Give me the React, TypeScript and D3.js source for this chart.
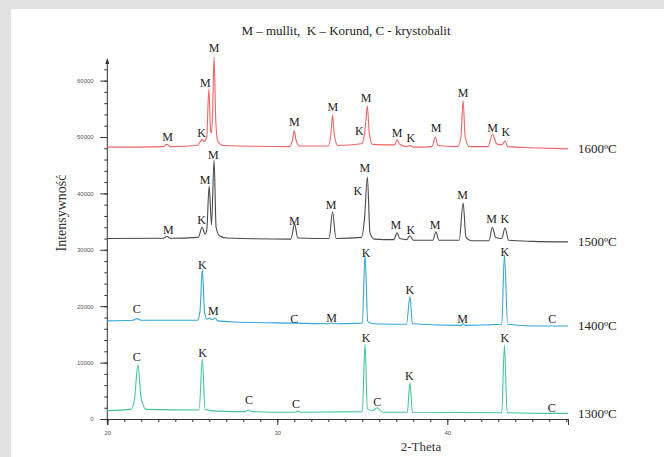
import React, { useRef, useEffect } from "react"
import * as d3 from "d3"

// XRD scans, [2-theta, counts]
const scan1600: [number, number][] = [
  [20, 48200], [23.3, 48300], [23.5, 48700], [23.7, 48300], [25.3, 48500], [25.5, 49300], [25.58, 49600],
  [25.68, 49200], [25.85, 50000], [25.97, 58500], [26.08, 51000], [26.13, 50700], [26.2, 55000],
  [26.28, 64200], [26.38, 53000], [26.5, 49200], [26.8, 48500], [30.7, 48300], [30.9, 49500],
  [31.0, 51100], [31.1, 49500], [31.3, 48400], [33.0, 48400], [33.15, 50500], [33.25, 53900],
  [33.35, 50500], [33.55, 48500], [34.95, 48800], [35.12, 50300], [35.2, 52500], [35.3, 55500],
  [35.4, 51000], [35.6, 48700], [36.9, 48600], [37.05, 49500], [37.2, 48700], [37.6, 48300],
  [37.8, 48500], [38.0, 48200], [39.1, 48300], [39.3, 50000], [39.45, 48500], [40.6, 48300],
  [40.8, 50000], [40.93, 56400], [41.05, 50000], [41.3, 48300], [42.4, 48300], [42.65, 50500],
  [42.9, 48800], [43.2, 48600], [43.4, 49300], [43.55, 48300], [45, 48100], [47.1, 47900],
]
const scan1500: [number, number][] = [
  [20, 32000], [23.3, 32050], [23.5, 32400], [23.7, 32050], [25.35, 32200], [25.58, 34000],
  [25.75, 32800], [25.85, 33500], [25.99, 41300], [26.13, 34400], [26.28, 45900], [26.4, 34000],
  [26.6, 32500], [27, 32100], [30.8, 31900], [31.02, 34600], [31.2, 32100], [33.05, 32000],
  [33.25, 36700], [33.45, 32000], [34.95, 32200], [35.13, 35500], [35.3, 42900], [35.45, 33000],
  [35.7, 31900], [36.85, 31800], [37.05, 33000], [37.2, 32000], [37.6, 31800], [37.8, 32500],
  [38.0, 31700], [39.15, 31700], [39.33, 33200], [39.5, 31700], [40.7, 31700], [40.93, 38300],
  [41.1, 32200], [41.4, 31600], [42.45, 31600], [42.65, 34000], [42.85, 32200], [43.2, 32000],
  [43.4, 33900], [43.6, 31700], [45, 31500], [47.1, 31400],
]
const scan1400: [number, number][] = [
  [20, 17400], [21.5, 17500], [21.75, 17800], [22.0, 17500], [25.3, 17500], [25.45, 19000],
  [25.59, 26500], [25.72, 19000], [25.85, 17700], [26.04, 17900], [26.15, 17600], [26.34, 17900],
  [26.5, 17400], [27.5, 17200], [31, 17000], [33.1, 16900], [33.2, 17100], [33.3, 16900],
  [35.0, 17000], [35.16, 29100], [35.32, 17300], [35.6, 16900], [37.6, 16800], [37.8, 21700],
  [37.95, 16900], [40.8, 16600], [40.93, 16900], [41.05, 16600], [43.2, 16800], [43.36, 29100],
  [43.55, 16800], [45, 16500], [47.1, 16500],
]
const scan1300: [number, number][] = [
  [20, 1500], [21.4, 1700], [21.6, 3500], [21.8, 9600], [22.0, 3500], [22.3, 1700], [25.4, 1600],
  [25.59, 10600], [25.75, 1700], [26.5, 1400], [28.1, 1300], [28.3, 1600], [28.5, 1300],
  [31.0, 1200], [31.2, 1400], [31.4, 1200], [35.0, 1300], [35.16, 13300], [35.3, 1800],
  [35.6, 1500], [35.88, 2000], [36.2, 1200], [37.65, 1200], [37.8, 6400], [37.95, 1200],
  [43.2, 1100], [43.36, 13100], [43.52, 1100], [46.1, 1000], [47.1, 1000],
]

// phase marks, [2-theta, letter, counts]
const labels1600: [number, string, number][] = [
  [23.55, "M", 50000], [25.55, "K", 50760], [25.76, "M", 59570], [26.28, "M", 65780],
  [31.0, "M", 52660], [33.26, "M", 55320], [35.23, "M", 56970], [34.82, "K", 51120],
  [37.04, "M", 50710], [37.86, "K", 49820], [39.34, "M", 51650], [40.93, "M", 57800],
  [42.67, "M", 51650], [43.45, "K", 50940],
]
const labels1500: [number, string, number][] = [
  [23.59, "M", 33630], [25.55, "K", 35280], [25.75, "M", 42500], [26.24, "M", 46810],
  [31.0, "M", 35160], [33.16, "M", 37940], [35.15, "M", 44500], [34.74, "K", 40430],
  [36.98, "M", 34400], [37.85, "K", 33630], [39.28, "M", 34400], [40.9, "M", 39720],
  [42.61, "M", 35460], [43.39, "K", 35460],
]
const labels1400: [number, string, number][] = [
  [21.73, "C", 19500], [25.59, "K", 27300], [26.24, "M", 19150], [31.0, "C", 17850],
  [33.2, "M", 18030], [35.22, "K", 29550], [37.8, "K", 22870], [40.9, "M", 17680],
  [43.39, "K", 29660], [46.18, "C", 17730],
]
const labels1300: [number, string, number][] = [
  [21.73, "C", 10940], [25.61, "K", 11650], [28.34, "C", 3490], [31.1, "C", 2660],
  [35.22, "K", 14310], [35.88, "C", 3070], [37.76, "K", 7620], [43.39, "K", 14310],
  [46.14, "C", 2000],
]

const temps = ["1600ºC", "1500ºC", "1400ºC", "1300ºC"]
const xMajor = [20, 30, 40]
const yMajor = [0, 10000, 20000, 30000, 40000, 50000, 60000]

const title = "M – mullit,  K – Korund, C - krystobalit"

const colors = ["#f06464", "#4a4a4a", "#35a6d6", "#45c49c"]

const App = () => {
  const ref = useRef<SVGSVGElement>(null)

  useEffect(() => {
    const svg = d3.select(ref.current)
    svg.selectAll("*").remove()

    const x = d3.scaleLinear().domain([20, 47.1]).range([107.3, 568])
    const y = d3.scaleLinear().domain([0, 60000]).range([419, 80.6])

    svg.append("rect").attr("width", 664).attr("height", 457).attr("fill", "#e1e1e1")
    svg.append("rect").attr("x", 11).attr("y", 9).attr("width", 653).attr("height", 448).attr("fill", "#fff")

    svg.append("text")
      .attr("x", 346).attr("y", 35)
      .attr("text-anchor", "middle")
      .style("white-space", "pre")
      .attr("font-family", "Liberation Serif, Times New Roman, serif")
      .attr("font-size", 13).attr("fill", "#222")
      .text(title)

    // axes
    const axisCol = "#333"
    const gx = svg.append("g").attr("transform", "translate(0,419)")
    gx.call(d3.axisBottom(x).tickValues(d3.range(20, 48, 1)).tickSize(3).tickFormat(() => ""))
    gx.append("g").call(d3.axisBottom(x).tickValues(xMajor).tickSize(6).tickFormat(d3.format("d")))
    gx.selectAll(".domain").attr("stroke", axisCol)
    gx.selectAll("line").attr("stroke", axisCol)
    gx.selectAll("text").attr("font-size", 6).attr("font-family", "Liberation Sans, Arial, sans-serif")
      .attr("fill", "#555").attr("dy", "1.2em")

    const gy = svg.append("g").attr("transform", "translate(107.3,0)")
    gy.call(d3.axisLeft(y).tickValues(d3.range(0, 62001, 2000)).tickSize(3).tickFormat(() => ""))
    gy.append("g").call(d3.axisLeft(y).tickValues(yMajor).tickSize(7).tickFormat(d3.format("d")))
    gy.selectAll(".domain").remove()
    gy.selectAll("line").attr("stroke", axisCol)
    gy.selectAll("text").attr("font-size", 6).attr("font-family", "Liberation Sans, Arial, sans-serif")
      .attr("fill", "#555").attr("dx", "-0.6em")
    gy.append("line").attr("x1", 0).attr("x2", 0).attr("y1", 424).attr("y2", 60).attr("stroke", axisCol)
    gy.append("path").attr("d", "M0,58 L-2,64 L2,64 Z").attr("fill", axisCol)

    svg.append("text")
      .attr("transform", "translate(63,213) rotate(-90)")
      .attr("text-anchor", "middle").attr("dominant-baseline", "middle")
      .attr("font-family", "Liberation Serif, Times New Roman, serif")
      .attr("font-size", 14).attr("fill", "#333")
      .text("Intensywność")

    svg.append("text")
      .attr("x", 421).attr("y", 451)
      .attr("text-anchor", "middle")
      .attr("font-family", "Liberation Serif, Times New Roman, serif")
      .attr("font-size", 13).attr("fill", "#333")
      .text("2-Theta")

    const line = d3.line<[number, number]>()
      .x(d => x(d[0]))
      .y(d => y(d[1]))
      .curve(d3.curveMonotoneX)

    const scans = [scan1600, scan1500, scan1400, scan1300]
    const marks = [labels1600, labels1500, labels1400, labels1300]

    scans.forEach((scan, i) => {
      svg.append("path")
        .datum(scan)
        .attr("d", line)
        .attr("fill", "none")
        .attr("stroke", colors[i])
        .attr("stroke-width", 1.1)

      svg.append("g")
        .selectAll("text")
        .data(marks[i])
        .enter()
        .append("text")
          .attr("x", d => x(d[0]))
          .attr("y", d => y(d[2]))
          .attr("dy", "0.35em")
          .attr("text-anchor", "middle")
          .attr("font-family", "Liberation Serif, Times New Roman, serif")
          .attr("font-size", 12).attr("fill", "#222")
          .text(d => d[1])

      const last = scan[scan.length - 1]
      svg.append("text")
        .attr("x", x(last[0]) + 10)
        .attr("y", y(last[1]))
        .attr("dy", "0.35em")
        .attr("font-family", "Liberation Serif, Times New Roman, serif")
        .attr("font-size", 13).attr("fill", "#222")
        .text(temps[i])
    })
  }, [])

  return (
    <div style={{ position: "absolute", left: 0, top: 0 }}>
      <svg ref={ref} width={664} height={457} style={{ display: "block" }} />
    </div>
  )
}

export default App
